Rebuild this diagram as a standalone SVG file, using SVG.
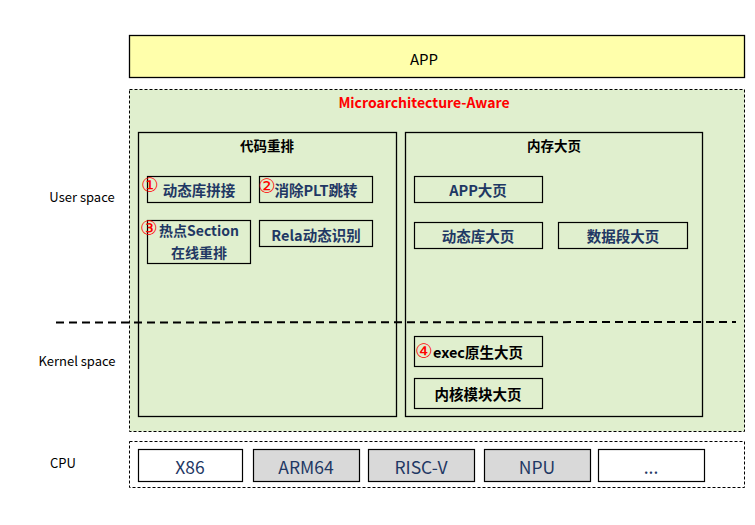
<svg xmlns="http://www.w3.org/2000/svg" width="755" height="525" viewBox="0 0 755 525">
<style>
text{font-family:"Noto Sans CJK SC","Liberation Sans",sans-serif;text-anchor:middle;dominant-baseline:central}
.box{fill:none;stroke:#000;stroke-width:1.3}
.sb{fill:none;stroke:#000;stroke-width:1.2}
.t{font-size:14.5px;font-weight:bold;fill:#1F3864}
.tk{font-size:14.5px;font-weight:bold;fill:#000}
.h{font-size:13.5px;font-weight:bold;fill:#000}
.n{font-size:20px;fill:#FF0000;font-family:"DejaVu Sans","Noto Sans CJK SC",sans-serif;font-weight:normal}
.lab{font-size:13px;fill:#000}
.cpu{font-size:17.5px;fill:#1F3864}
.dash{stroke:#000;stroke-width:1;stroke-dasharray:3,2}
</style>
<rect width="755" height="525" fill="#fff"/>
<g id="labels">
<text class="lab" x="82" y="196">User space</text>
<text class="lab" x="77" y="360">Kernel space</text>
<text class="lab" x="63" y="462">CPU</text>
</g>
<g id="app">
<rect x="129.5" y="35.5" width="615" height="42" fill="#FFFFAB" stroke="#000" stroke-width="1.3"/>
<text x="424" y="58" style="font-size:15px;fill:#000">APP</text>
</g>
<g id="micro">
<rect x="129.5" y="89.5" width="615" height="342" class="dash" style="fill:#E0EFCE"/>
<text x="424" y="102" style="font-size:14px;font-weight:bold;fill:#FF0000">Microarchitecture-Aware</text>
</g>
<g id="code-reorder">
<rect x="138.5" y="132.5" width="258" height="284" class="box"/>
<text class="h" x="267" y="145">代码重排</text>
</g>
<g id="n1">
<rect x="147.5" y="176.5" width="103" height="26" class="sb"/>
<text class="t" x="199" y="189">动态库拼接</text>
<text class="n" x="150" y="185">①</text>
</g>
<g id="n2">
<rect x="259.5" y="176.5" width="113" height="26" class="sb"/>
<text class="t" x="316" y="189">消除PLT跳转</text>
<text class="n" x="267" y="186">②</text>
</g>
<g id="n3">
<rect x="147.5" y="220.5" width="103" height="43" class="sb"/>
<text class="t" x="199" y="230" style="font-size:14px">热点Section</text>
<text class="t" x="199" y="251.5" style="font-size:14px">在线重排</text>
<text class="n" x="149" y="228">③</text>
</g>
<g id="n-rela">
<rect x="259.5" y="220.5" width="113" height="26" class="sb"/>
<text class="t" x="316" y="234">Rela动态识别</text>
</g>
<g id="hugepage">
<rect x="405.5" y="132.5" width="297" height="284" class="box"/>
<text class="h" x="554" y="145">内存大页</text>
</g>
<g id="app-hp">
<rect x="414.5" y="176.5" width="128" height="26" class="sb"/>
<text class="t" x="478" y="189">APP大页</text>
</g>
<g id="lib-hp">
<rect x="414.5" y="222.5" width="128" height="26" class="sb"/>
<text class="t" x="478" y="235">动态库大页</text>
</g>
<g id="data-hp">
<rect x="558.5" y="222.5" width="129" height="26" class="sb"/>
<text class="t" x="623" y="235">数据段大页</text>
</g>
<g id="exec-hp">
<rect x="414.5" y="336.5" width="128" height="30" class="sb"/>
<text class="tk" x="478" y="351">exec原生大页</text>
<text class="n" x="424" y="351">④</text>
</g>
<g id="kmod-hp">
<rect x="414.5" y="378.5" width="128" height="30" class="sb"/>
<text class="tk" x="478" y="393">内核模块大页</text>
</g>
<g id="connectors">
<line x1="56" y1="322.5" x2="736" y2="322" stroke="#000" stroke-width="2" stroke-dasharray="8,5"/>
</g>
<g id="cpu">
<rect x="129.5" y="441.5" width="615" height="46" class="dash" style="fill:#fff"/>
</g>
<g id="x86"><rect x="138.5" y="449.5" width="104" height="32" fill="#fff" stroke="#000" stroke-width="1.2"/><text class="cpu" x="190" y="466">X86</text></g>
<g id="arm64"><rect x="253.5" y="449.5" width="106" height="32" fill="#D9D9D9" stroke="#000" stroke-width="1.2"/><text class="cpu" x="306" y="466">ARM64</text></g>
<g id="riscv"><rect x="368.5" y="449.5" width="106" height="32" fill="#D9D9D9" stroke="#000" stroke-width="1.2"/><text class="cpu" x="421" y="466">RISC-V</text></g>
<g id="npu"><rect x="484.5" y="449.5" width="106" height="32" fill="#D9D9D9" stroke="#000" stroke-width="1.2"/><text class="cpu" x="537" y="466">NPU</text></g>
<g id="more"><rect x="598.5" y="449.5" width="106" height="32" fill="#fff" stroke="#000" stroke-width="1.2"/><text class="cpu" x="651" y="466">...</text></g>
</svg>
